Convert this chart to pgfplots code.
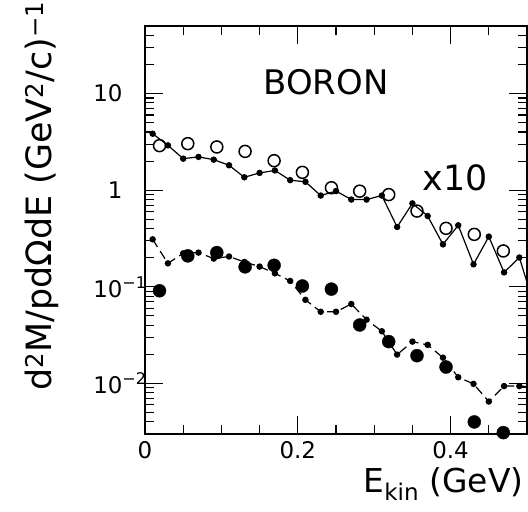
\documentclass[border=0pt]{standalone}
\usepackage{fontspec}
\setmainfont{DejaVu Sans}
\usepackage{pgfplots}
\pgfplotsset{compat=1.18}

% Boron: scaled (x10) spectrum, upper; unscaled spectrum, lower
\pgfplotstableread{
x     y
0.01  3.84
0.03  2.91
0.05  2.12
0.07  2.21
0.09  2.07
0.11  1.81
0.13  1.36
0.15  1.51
0.17  1.60
0.19  1.27
0.21  1.22
0.23  0.88
0.25  0.98
0.27  0.80
0.29  0.80
0.31  0.88
0.33  0.416
0.35  0.73
0.37  0.54
0.39  0.275
0.41  0.433
0.43  0.171
0.45  0.331
0.47  0.141
0.49  0.201
0.51  0.062
}\calcupper
\pgfplotstableread{
x      y
0.019  2.89
0.056  3.03
0.094  2.80
0.131  2.52
0.169  2.02
0.206  1.53
0.244  1.06
0.281  0.977
0.319  0.90
0.356  0.608
0.394  0.403
0.431  0.349
0.469  0.235
}\dataupper
\pgfplotstableread{
x     y
0.01  0.310
0.03  0.175
0.05  0.222
0.07  0.226
0.09  0.196
0.11  0.206
0.13  0.181
0.15  0.162
0.17  0.138
0.19  0.115
0.21  0.0734
0.23  0.0552
0.25  0.0552
0.27  0.0664
0.29  0.0457
0.31  0.0347
0.33  0.0199
0.35  0.0271
0.37  0.0251
0.39  0.0185
0.41  0.0116
0.43  0.0099
0.45  0.0065
0.47  0.0094
0.49  0.0094
0.51  0.0092
}\calclower
\pgfplotstableread{
x      y
0.019  0.091
0.056  0.209
0.094  0.226
0.131  0.161
0.169  0.167
0.206  0.102
0.244  0.0947
0.281  0.0403
0.319  0.0271
0.356  0.0194
0.394  0.0148
0.431  0.0040
0.469  0.0031
}\datalower

\begin{document}
\begin{tikzpicture}
\begin{axis}[
  at={(0,0)}, anchor=south west,
  scale only axis, width=382bp, height=408bp,
  clip mode=individual,
  ymode=log,
  xmin=0, xmax=0.5, ymin=0.003, ymax=50,
  xtick={0,0.2,0.4}, xticklabels={0,0.2,0.4},
  minor xtick={0.05,0.1,0.15,0.25,0.3,0.35,0.45},
  ytick={0.01,0.1,1,10},
  yticklabels={10\rlap{\textsuperscript{−2}},10\rlap{\textsuperscript{−1}},1,10},
  minor ytick={0.003,0.004,0.005,0.006,0.007,0.008,0.009,
               0.02,0.03,0.04,0.05,0.06,0.07,0.08,0.09,
               0.2,0.3,0.4,0.5,0.6,0.7,0.8,0.9,
               2,3,4,5,6,7,8,9,20,30,40},
  xtick pos=both, ytick pos=both,
  tick align=inside,
  major tick length=18bp, minor tick length=9bp,
  every tick/.style={black, line width=1.1bp},
  axis line style={line width=1.4bp},
  tick label style={font=\fontsize{23}{26}\selectfont},
  xticklabel style={yshift=-4bp},
  yticklabel style={xshift=-19bp},
]
\addplot[black, line width=1.2bp, mark=*, mark size=2.6bp] table {\calcupper};
\addplot[black, only marks, mark=o, mark size=6bp, mark options={line width=1.5bp}] table {\dataupper};
\addplot[black, line width=1.2bp, dash pattern=on 9bp off 5bp, mark=*, mark size=2.6bp, mark options={solid}] table {\calclower};
\addplot[black, only marks, mark=*, mark size=6.5bp] table {\datalower};

\node[font=\fontsize{34}{40}\selectfont] at (axis cs:0.237,13.2) {BORON};
\node[font=\fontsize{35}{40}\selectfont] at (axis cs:0.406,1.34) {x10};
\end{axis}
% axis titles, set outside the axis box
\node[rotate=90, anchor=base, font=\fontsize{35}{40}\selectfont]
  at (-93bp,238bp) {d\textsuperscript{2}M/pdΩdE (GeV\textsuperscript{2}/c)\textsuperscript{−1}};
\node[anchor=base east, font=\fontsize{33}{38}\selectfont]
  at (382bp,-58bp) {E\textsubscript{kin} (GeV)};
\pgfresetboundingbox
\path[use as bounding box] (-145bp,-78bp) rectangle (383bp,434bp);
\end{tikzpicture}
\end{document}
